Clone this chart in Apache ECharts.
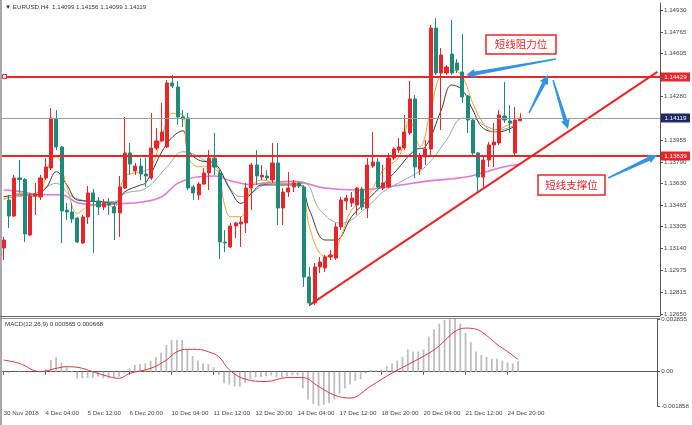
<!DOCTYPE html>
<html><head><meta charset="utf-8">
<script src="https://cdn.jsdelivr.net/npm/echarts@6/dist/echarts.min.js"></script>
<style>html,body{margin:0;padding:0;background:#fff}#c{width:692px;height:425px}</style>
</head><body><div id="c"></div><script>
// ---- data ----
// bars: [open, high, low, close]
const bars = [
[1.13145,1.13228,1.13055,1.13205],[1.13505,1.13543,1.13295,1.13385],[1.13385,1.13693,1.13378,1.13670],[1.13670,1.13805,1.13558,1.13659],
[1.13659,1.13670,1.13190,1.13250],[1.13243,1.13558,1.13235,1.13535],[1.13535,1.13633,1.13393,1.13550],[1.13528,1.13693,1.13505,1.13670],
[1.13670,1.13820,1.13655,1.13753],[1.13745,1.14195,1.13730,1.14120],[1.14113,1.14180,1.13880,1.13903],[1.13903,1.13910,1.13183,1.13423],
[1.13430,1.13483,1.13355,1.13415],[1.13415,1.13483,1.13333,1.13363],[1.13370,1.13378,1.13183,1.13190],[1.13183,1.13393,1.13175,1.13378],
[1.13378,1.13610,1.13325,1.13558],[1.13558,1.13588,1.13108,1.13498],[1.13498,1.13528,1.13393,1.13453],[1.13453,1.13513,1.13430,1.13483],
[1.13483,1.13520,1.13393,1.13468],[1.13453,1.13483,1.13205,1.13408],[1.13408,1.13685,1.13228,1.13603],[1.13595,1.14128,1.13588,1.13858],
[1.13858,1.13933,1.13693,1.13775],[1.13723,1.13783,1.13693,1.13760],[1.13760,1.13820,1.13655,1.13700],[1.13700,1.13820,1.13603,1.13685],
[1.13670,1.14158,1.13655,1.13895],[1.13895,1.14045,1.13880,1.13948],[1.13948,1.14233,1.13940,1.14015],[1.13903,1.14405,1.13895,1.14383],
[1.14383,1.14443,1.14345,1.14360],[1.14353,1.14398,1.14068,1.14128],[1.14128,1.14180,1.14053,1.14113],[1.14120,1.14158,1.13580,1.13595],
[1.13603,1.13618,1.13505,1.13558],[1.13543,1.13640,1.13505,1.13625],[1.13625,1.13745,1.13618,1.13708],[1.13708,1.13880,1.13580,1.13820],
[1.13820,1.14008,1.13693,1.13753],[1.13708,1.13730,1.13063,1.13190],[1.13190,1.13280,1.13115,1.13183],[1.13153,1.13333,1.13145,1.13310],
[1.13310,1.13340,1.13220,1.13333],[1.13325,1.13378,1.13153,1.13340],[1.13333,1.13633,1.13258,1.13595],[1.13595,1.13783,1.13430,1.13768],
[1.13768,1.13880,1.13618,1.13685],[1.13678,1.13768,1.13655,1.13690],[1.13685,1.13730,1.13655,1.13670],[1.13655,1.13933,1.13633,1.13783],
[1.13783,1.13933,1.13318,1.13445],[1.13445,1.13595,1.13318,1.13565],[1.13565,1.13715,1.13528,1.13595],[1.13603,1.13655,1.13565,1.13633],
[1.13633,1.13640,1.13595,1.13610],[1.13603,1.13618,1.12853,1.12928],[1.12928,1.13003,1.12710,1.12733],[1.12733,1.13033,1.12718,1.13003],
[1.13003,1.13078,1.12958,1.13040],[1.12995,1.13093,1.12965,1.13078],[1.13078,1.13130,1.13055,1.13093],[1.13070,1.13333,1.13055,1.13303],
[1.13303,1.13528,1.13280,1.13505],[1.13498,1.13543,1.13430,1.13520],[1.13483,1.13565,1.13453,1.13520],[1.13468,1.13603,1.13393,1.13595],
[1.13588,1.13603,1.13430,1.13453],[1.13445,1.13820,1.13370,1.13768],[1.13760,1.14015,1.13745,1.13790],[1.13790,1.13820,1.13595,1.13603],
[1.13595,1.13768,1.13580,1.13633],[1.13603,1.13858,1.13595,1.13820],[1.13820,1.13903,1.13805,1.13888],[1.13880,1.13970,1.13858,1.13903],
[1.13895,1.14143,1.13880,1.14015],[1.14008,1.14398,1.13993,1.14263],[1.14263,1.14293,1.13670,1.13753],[1.13738,1.13858,1.13693,1.13828],
[1.13828,1.13955,1.13768,1.13888],[1.13888,1.14818,1.13828,1.14795],[1.14795,1.14870,1.14443,1.14458],[1.14458,1.14645,1.14030,1.14593],
[1.14458,1.14518,1.14443,1.14503],[1.14600,1.14855,1.14443,1.14458],[1.14533,1.14563,1.14458,1.14480],[1.14465,1.14750,1.14233,1.14278],
[1.14285,1.14293,1.14008,1.14105],[1.14105,1.14120,1.13828,1.13858],[1.13858,1.13865,1.13565,1.13678],[1.13678,1.13828,1.13603,1.13805],
[1.13805,1.13940,1.13753,1.13918],[1.13918,1.14083,1.13753,1.13940],[1.13933,1.14180,1.13918,1.14143],[1.14135,1.14390,1.14083,1.14105],
[1.14098,1.14218,1.14008,1.14083],[1.13858,1.14203,1.13843,1.14105],[1.14099,1.14156,1.14099,1.14119]
];
// moving averages: [barIndex, price]
const maFast = [[0,1.13505],[3,1.13555],[6,1.13530],[9,1.13805],[10,1.13830],[12,1.13605],[14,1.13405],[16,1.13455],[19,1.13468],[21,1.13455],[23,1.13680],[26,1.13717],[28,1.13755],[30,1.13980],[32,1.14155],[34,1.14143],[35,1.13830],[37,1.13755],[40,1.13755],[42,1.13455],[43,1.13380],[45,1.13380],[47,1.13605],[49,1.13655],[52,1.13630],[56,1.13630],[58,1.13305],[60,1.13105],[62,1.13080],[64,1.13230],[66,1.13430],[69,1.13530],[72,1.13730],[75,1.13830],[77,1.14105],[79,1.13905],[81,1.14180],[83,1.14455],[85,1.14480],[87,1.14430],[89,1.14230],[91,1.14080],[93,1.14017],[95,1.14055],[97,1.14093]];
const maMid = [[0,1.13530],[3,1.13543],[6,1.13543],[8,1.13593],[10,1.13717],[12,1.13618],[14,1.13505],[18,1.13493],[21,1.13483],[23,1.13567],[26,1.13618],[27,1.13635],[31,1.13930],[34,1.14025],[35,1.13880],[37,1.13805],[40,1.13780],[43,1.13580],[45,1.13480],[47,1.13555],[49,1.13618],[52,1.13618],[56,1.13618],[58,1.13430],[61,1.13205],[63,1.13205],[66,1.13380],[69,1.13505],[74,1.13705],[78,1.13880],[80,1.13905],[83,1.14180],[85,1.14368],[87,1.14330],[89,1.14180],[91,1.14043],[94,1.14017],[97,1.14060]];
const maSlow = [[0,1.13518],[6,1.13555],[10,1.13630],[13,1.13530],[18,1.13493],[21,1.13493],[23,1.13555],[27,1.13593],[31,1.13755],[34,1.13867],[37,1.13830],[41,1.13705],[45,1.13530],[47,1.13555],[49,1.13612],[52,1.13630],[57,1.13630],[60,1.13430],[64,1.13330],[69,1.13455],[72,1.13567],[76,1.13655],[80,1.13755],[84,1.13955],[87,1.14118],[89,1.14118],[91,1.14068],[94,1.14030],[97,1.14068]];
const maLong = [[0,1.13580],[3,1.13570],[7,1.13545],[11,1.13545],[14,1.13485],[18,1.13470],[22,1.13478],[26,1.13488],[30,1.13530],[33,1.13630],[37,1.13680],[40,1.13685],[43,1.13650],[47,1.13620],[49,1.13630],[55,1.13645],[61,1.13595],[67,1.13580],[74,1.13610],[80,1.13645],[88,1.13680],[94,1.13745],[98,1.13775]];
// MACD histogram (one per bar) and signal line
const macdHist = [-0.00002,-0.00005,0.00001,0.00005,-0.00003,-0.00004,0.0,0.00002,0.00015,0.00063,0.00078,0.00049,0.00024,0.00004,-0.00036,-0.00036,-0.00034,-0.00034,-0.00027,-0.00036,
-0.00036,-0.00031,-0.00027,-0.00009,0.00018,0.00036,0.00042,0.00045,0.00060,0.00078,0.00103,0.00145,0.00172,0.00172,0.00172,0.00121,0.00085,0.00060,0.00045,0.00042,
0.00024,-0.00018,-0.00063,-0.00070,-0.00080,-0.00080,-0.00060,-0.00040,-0.00030,-0.00030,-0.00025,-0.00020,-0.00030,-0.00030,-0.00025,-0.00020,-0.00020,-0.00090,-0.00150,-0.00175,
-0.001858,-0.00180,-0.00170,-0.00150,-0.00120,-0.00090,-0.00070,-0.00050,-0.00040,-0.00010,0.00010,0.00010,0.00012,0.00030,0.00045,0.00060,0.00080,0.00120,0.00110,0.00110,
0.00120,0.00190,0.00230,0.00260,0.00280,0.00284,0.002855,0.00260,0.00210,0.00160,0.00110,0.00090,0.00080,0.00070,0.00070,0.00060,0.00050,0.00045,0.000565];
const macdSignal = [[0,0.00063],[3,0.00045],[7,0.0],[10,0.00018],[12,0.00027],[14,0.00024],[17,0.0],[19,-0.00018],[22,-0.00036],[24,-0.00009],[28,0.00018],[31,0.00063],[33,0.00108],[35,0.00121],[37,0.00121],[39,0.00108],[41,0.00081],[43,0.0001],[46,-0.0004],[50,-0.00053],[54,-0.00032],[57,-0.00032],[60,-0.0008],[63,-0.00127],[66,-0.00143],[70,-0.00077],[74,-0.00007],[78,0.00053],[82,0.00118],[84,0.00167],[86,0.00218],[88,0.00236],[90,0.0023],[92,0.00196],[94,0.00148],[96,0.00109],[98,0.000668]];
const timeTicks = ['30 Nov 2018','4 Dec 04:00','5 Dec 12:00','6 Dec 20:00','10 Dec 04:00','11 Dec 12:00','12 Dec 20:00','14 Dec 04:00','17 Dec 12:00','18 Dec 20:00','20 Dec 04:00','21 Dec 12:00','24 Dec 20:00'];
const priceTicks = [1.14930,1.14765,1.14605,1.14280,1.13955,1.13790,1.13630,1.13465,1.13305,1.13140,1.12975,1.12815,1.12650];
const macdTicks = [0.002855,0,-0.001858];
const resistance = 1.14429, support = 1.13839, lastPrice = 1.14119;
const trendStart = [58, 1.12716], trendEnd = [124, 1.14466];
const slots = 125;

// ---- chart ----
const cats = Array.from({length: slots}, (_, i) => String(i));
const RED = '#e8262a', TEAL = '#1d8a7a', BLUE = '#3394e0';
const FONT = 'Liberation Sans';
const chart = echarts.init(document.getElementById('c'));

function arrow(x1, y1, x2, y2, w0, w1, hw, hl) {
  const dx = x2 - x1, dy = y2 - y1, L = Math.hypot(dx, dy);
  const ux = dx / L, uy = dy / L, nx = -uy, ny = ux;
  const bx = x2 - ux * hl, by = y2 - uy * hl;
  return { type: 'polygon', z: 50, shape: { points: [
    [x1 + nx * w0 / 2, y1 + ny * w0 / 2], [bx + nx * w1 / 2, by + ny * w1 / 2], [bx + nx * hw / 2, by + ny * hw / 2],
    [x2, y2], [bx - nx * hw / 2, by - ny * hw / 2], [bx - nx * w1 / 2, by - ny * w1 / 2], [x1 - nx * w0 / 2, y1 - ny * w0 / 2]] },
    style: { fill: BLUE } };
}
function box(x, y, w, h, txt) {
  return { type: 'group', z: 60, children: [
    { type: 'rect', shape: { x: x, y: y, width: w, height: h }, style: { fill: '#fff', stroke: RED, lineWidth: 1.5 } },
    { type: 'text', x: x + w / 2, y: y + h / 2, style: { text: txt, fill: RED, font: '10.5px "Noto Sans CJK SC"', textAlign: 'center', textVerticalAlign: 'middle' } }
  ] };
}
function maSeries(data, color, width) {
  return { type: 'line', xAxisIndex: 0, yAxisIndex: 0, data: data, smooth: 0.4, symbol: 'none', silent: true,
    lineStyle: { color: color, width: width }, z: 3 };
}
const lblStyle = { fontSize: 6.2, color: '#444', fontFamily: FONT };

chart.setOption({
  animation: false,
  backgroundColor: '#fff',
  grid: [{ left: 1, right: 32, top: 3, height: 313 }, { left: 1, right: 32, top: 319, height: 87 }],
  xAxis: [
    { type: 'category', gridIndex: 0, data: cats, axisLine: { show: false }, axisTick: { show: false }, axisLabel: { show: false }, splitLine: { show: false } },
    { type: 'category', gridIndex: 1, data: cats, axisLine: { show: true, lineStyle: { color: '#555' } },
      axisTick: { show: true, alignWithLabel: true, length: 3, interval: (i) => i % 8 === 0 && i / 8 < timeTicks.length, lineStyle: { color: '#555' } },
      axisLabel: { interval: (i) => i % 8 === 0 && i / 8 < timeTicks.length, formatter: (v, i) => timeTicks[i / 8] || '', align: 'left', margin: 4, ...lblStyle },
      splitLine: { show: false } }
  ],
  yAxis: [
    { type: 'value', gridIndex: 0, position: 'right', min: 1.12635, max: 1.14983,
      axisLine: { show: true, lineStyle: { color: '#555' } },
      axisTick: { show: true, customValues: priceTicks, length: 3, lineStyle: { color: '#555' } },
      axisLabel: { customValues: priceTicks, formatter: (v) => v.toFixed(5), margin: 4, ...lblStyle },
      splitLine: { show: false } },
    { type: 'value', gridIndex: 1, position: 'right', min: -0.001858, max: 0.002855,
      axisLine: { show: true, lineStyle: { color: '#555' } },
      axisTick: { show: true, customValues: macdTicks, length: 3, lineStyle: { color: '#555' } },
      axisLabel: { customValues: macdTicks, formatter: (v) => v === 0 ? '0.00' : v.toFixed(6), margin: 4, ...lblStyle },
      splitLine: { show: false } }
  ],
  series: [
    maSeries(maLong, '#dd78dd', 1.6),
    maSeries(maSlow, '#8fae9e', 1),
    maSeries(maMid, '#3a3a3a', 1),
    maSeries(maFast, '#f0a030', 1),
    { type: 'candlestick', xAxisIndex: 0, yAxisIndex: 0, barWidth: 3.6, z: 5,
      data: bars.map(b => [b[0], b[3], b[2], b[1]]),
      itemStyle: { color: RED, color0: TEAL, borderColor: RED, borderColor0: TEAL, borderWidth: 1 } },
    { type: 'line', xAxisIndex: 0, yAxisIndex: 0, data: [], symbol: 'none', z: 6,
      markLine: { silent: true, symbol: ['none', 'none'], animation: false,
        data: [ [{ coord: trendStart, lineStyle: { color: RED, width: 2, type: 'solid' }, label: { show: false } }, { coord: trendEnd }] ] } },
    { type: 'bar', xAxisIndex: 1, yAxisIndex: 1, data: macdHist, barWidth: 1.8, itemStyle: { color: '#bdbdbd' }, silent: true },
    { type: 'line', xAxisIndex: 1, yAxisIndex: 1, data: macdSignal, smooth: 0.4, symbol: 'none', silent: true, lineStyle: { color: '#d83a3a', width: 1 } }
  ]
});

// horizontal price levels, placed through the price axis
const levels = [
  { v: resistance, stroke: RED, w: 2, bg: RED },
  { v: lastPrice, stroke: '#9a9a9a', w: 1, bg: '#1f2b66' },
  { v: support, stroke: RED, w: 2, bg: RED }
];
const g = [];
levels.forEach(L => {
  const y = Math.round(chart.convertToPixel({ yAxisIndex: 0 }, L.v));
  const yy = L.w === 1 ? y + 0.5 : y;
  g.push({ type: 'line', z: 30, silent: true, shape: { x1: 2, y1: yy, x2: 660, y2: yy }, style: { stroke: L.stroke, lineWidth: L.w } });
  g.push({ type: 'rect', z: 45, shape: { x: 661, y: y - 4.5, width: 29, height: 9 }, style: { fill: L.bg } });
  g.push({ type: 'text', z: 46, x: 675.5, y: y, style: { text: L.v.toFixed(5), fill: '#fff', font: '6.2px "Liberation Sans"', textAlign: 'center', textVerticalAlign: 'middle' } });
});
const yRes = Math.round(chart.convertToPixel({ yAxisIndex: 0 }, resistance));
g.push({ type: 'rect', z: 40, shape: { x: 2.5, y: yRes - 2.5, width: 4, height: 4 }, style: { fill: '#fff', stroke: RED, lineWidth: 1 } });

chart.setOption({ graphic: [
  { type: 'rect', z: 40, shape: { x: 0, y: 0, width: 2, height: 425 }, style: { fill: '#a8a8a8' } },
  { type: 'line', z: 40, shape: { x1: 0, y1: 316.5, x2: 660, y2: 316.5 }, style: { stroke: '#666', lineWidth: 1 } },
  { type: 'line', z: 40, shape: { x1: 0, y1: 318.5, x2: 660, y2: 318.5 }, style: { stroke: '#8a8aa8', lineWidth: 1 } },
  { type: 'text', z: 40, x: 5, y: 4, style: { text: '\u25BC EURUSD,H4  1.14099 1.14156 1.14099 1.14119', fill: '#333', font: '6.2px "Liberation Sans"' } },
  { type: 'text', z: 40, x: 5, y: 321, style: { text: 'MACD(12,26,9) 0.000565 0.000668', fill: '#333', font: '6.2px "Liberation Sans"' } },
  ...g,
  box(486, 35, 70, 19, '短线阻力位'),
  box(538, 175, 67, 20, '短线支撑位'),
  arrow(556, 59, 466, 75, 1.5, 4, 9, 9),
  arrow(529, 113, 548, 75, 1.5, 4, 9, 9),
  arrow(553, 80, 568, 129, 1.5, 4, 9, 9),
  arrow(608, 178, 657, 155, 1.5, 4, 9, 9)
] });
</script></body></html>
